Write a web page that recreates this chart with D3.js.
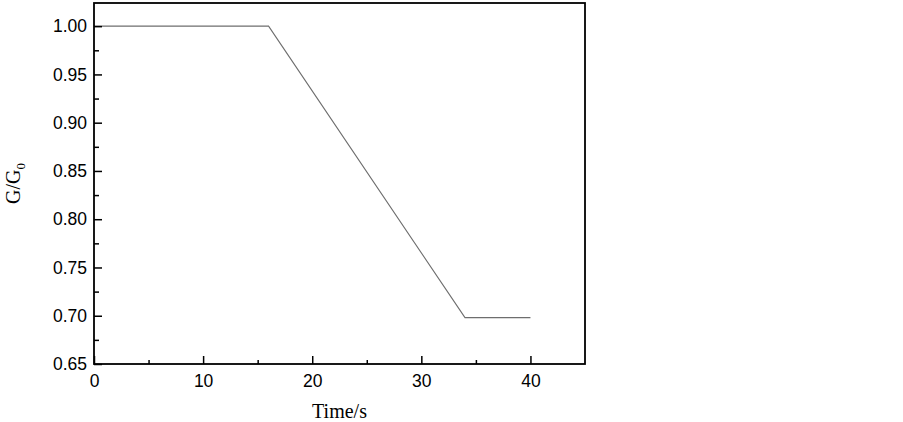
<!DOCTYPE html>
<html>
<head>
<meta charset="utf-8">
<script src="https://cdn.jsdelivr.net/npm/d3@7.9.0/dist/d3.min.js"></script>
<style>
  body { margin: 0; background: #fff; }
  svg { display: block; }
  .tick text { font-family: Arial, "Liberation Sans", sans-serif; font-size: 17.5px; fill: #000; }
  .title { font-family: "Times New Roman", "Liberation Serif", serif; font-size: 20px; fill: #000; }
</style>
</head>
<body>
<svg id="chart" width="903" height="422"></svg>
<script>
// curve points
const times = [0, 16, 34, 40];
const ratios = [1.0, 1.0, 0.698, 0.698];

const xTicks = [0, 10, 20, 30, 40];
const xMinor = [5, 15, 25, 35];
const yTicks = [0.65, 0.70, 0.75, 0.80, 0.85, 0.90, 0.95, 1.00];
const yMinor = [0.675, 0.725, 0.775, 0.825, 0.875, 0.925, 0.975];

const plot = { left: 94, right: 585, top: 3, bottom: 364 };

const svg = d3.select('#chart');

const xScale = d3.scaleLinear().domain([0, 45]).range([plot.left, plot.right]);
const yScale = d3.scaleLinear().domain([0.65, 1.024]).range([plot.bottom, plot.top]);

// curve
const line = d3.line()
  .x((d, i) => xScale(times[i]))
  .y(d => yScale(d));

svg.append('path')
  .datum(ratios)
  .attr('d', line)
  .attr('fill', 'none')
  .attr('stroke', '#6e6e6e')
  .attr('stroke-width', 1.1);

// minor ticks (inward)
svg.append('g')
  .attr('transform', `translate(0, ${plot.bottom})`)
  .call(d3.axisBottom(xScale).tickValues(xMinor).tickFormat('').tickSizeInner(-4).tickSizeOuter(0))
  .call(g => g.select('.domain').remove())
  .call(g => g.selectAll('line').attr('stroke-width', 1.5));

svg.append('g')
  .attr('transform', `translate(${plot.left}, 0)`)
  .call(d3.axisLeft(yScale).tickValues(yMinor).tickFormat('').tickSizeInner(-5).tickSizeOuter(0))
  .call(g => g.select('.domain').remove())
  .call(g => g.selectAll('line').attr('stroke-width', 1.5));

// major ticks + labels
svg.append('g')
  .attr('transform', `translate(0, ${plot.bottom})`)
  .call(d3.axisBottom(xScale).tickValues(xTicks).tickFormat(d3.format('d')).tickSizeInner(-8).tickSizeOuter(0).tickPadding(10))
  .call(g => g.select('.domain').remove())
  .call(g => g.selectAll('line').attr('stroke-width', 1.5))
  .call(g => g.selectAll('text').attr('dy', '0.72em'));

svg.append('g')
  .attr('transform', `translate(${plot.left}, 0)`)
  .call(d3.axisLeft(yScale).tickValues(yTicks).tickFormat(d3.format('.2f')).tickSizeInner(-8).tickSizeOuter(0).tickPadding(7))
  .call(g => g.select('.domain').remove())
  .call(g => g.selectAll('line').attr('stroke-width', 1.5));

// frame
svg.append('rect')
  .attr('x', plot.left)
  .attr('y', plot.top)
  .attr('width', plot.right - plot.left)
  .attr('height', plot.bottom - plot.top)
  .attr('fill', 'none')
  .attr('stroke', '#000')
  .attr('stroke-width', 1.8);

// axis titles
svg.append('text')
  .attr('class', 'title')
  .attr('x', (plot.left + plot.right) / 2)
  .attr('y', 418)
  .attr('text-anchor', 'middle')
  .text('Time/s');

const yTitle = svg.append('text')
  .attr('class', 'title')
  .attr('transform', `translate(20, ${(plot.top + plot.bottom) / 2}) rotate(-90)`)
  .attr('text-anchor', 'middle');
yTitle.append('tspan').text('G/G');
yTitle.append('tspan').attr('dy', 5).attr('font-size', 13).text('0');
</script>
</body>
</html>
